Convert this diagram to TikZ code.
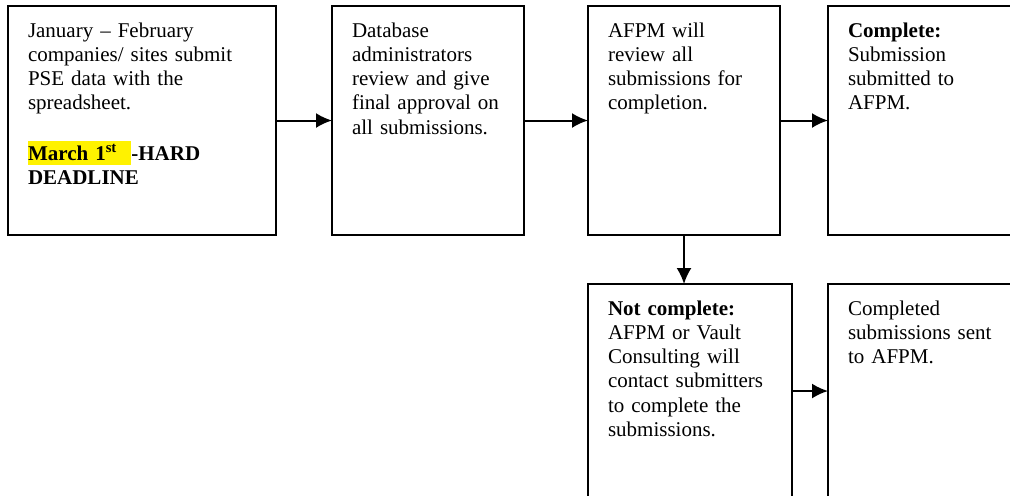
\documentclass[tikz,border=0pt]{standalone}
\usepackage{fontspec}
\setmainfont{Liberation Serif}
\usetikzlibrary{arrows.meta}

% yellow marker behind a piece of text
\newcommand{\hlmark}[1]{{\setlength{\fboxsep}{0pt}\colorbox{yellow}{\rule[-2pt]{0pt}{12pt}#1}}}

\begin{document}
\begin{tikzpicture}[>={Latex[length=8pt,width=7.5pt]}, x=0.5pt, y=-0.5pt,
	box/.style={draw, line width=1pt, anchor=north west, outer sep=0pt,
		inner xsep=10pt, inner ysep=0pt, align=left, text height=15.5pt,
		font=\fontsize{10.5}{12.15}\selectfont}]

	% fix the page and cut off what runs past it
	\useasboundingbox (0,0) rectangle (1010,495);
	\clip (0,0) rectangle (1010,495);

	% define the top left corners of the upper row
	\coordinate (A) at (8,6);
	\coordinate (B) at (332,6);
	\coordinate (C) at (588,6);
	\coordinate (D) at (828,6);

	% define the top left corners of the lower row
	\coordinate (E) at (588,284);
	\coordinate (F) at (828,284);

	% draw the upper row
	\node[box, text width=114pt, text depth=99pt] (A1) at (A) {
		January -- February\\
		companies/ sites submit\\
		PSE data with the\\
		spreadsheet.\\[12.15pt]
		\textbf{\hlmark{March 1\textsuperscript{st}\ \ }-HARD}\\
		\textbf{DEADLINE}
	};
	\node[box, text width=76pt, text depth=99pt] (B1) at (B) {
		Database\\
		administrators\\
		review and give\\
		final approval on\\
		all submissions.
	};
	\node[box, text width=76pt, text depth=99pt] (C1) at (C) {
		AFPM will\\
		review all\\
		submissions for\\
		completion.
	};
	\node[box, text width=76pt, text depth=99pt] (D1) at (D) {
		\textbf{Complete:}\\
		Submission\\
		submitted to\\
		AFPM.
	};

	% draw the lower row
	\node[box, text width=82pt, text depth=91.5pt] (E1) at (E) {
		\textbf{Not complete:}\\
		AFPM or Vault\\
		Consulting will\\
		contact submitters\\
		to complete the\\
		submissions.
	};
	\node[box, text width=76pt, text depth=91.5pt] (F1) at (F) {
		Completed\\
		submissions sent\\
		to AFPM.
	};

	% connect the boxes
	\draw[->, line width=1pt] (A1) -- (B1);
	\draw[->, line width=1pt] (B1) -- (C1);
	\draw[->, line width=1pt] (C1) -- (D1);
	\draw[->, line width=1pt] (C1.south) -- (C1.south |- E1.north);
	\draw[->, line width=1pt] (E1) -- (F1);

\end{tikzpicture}
\end{document}
